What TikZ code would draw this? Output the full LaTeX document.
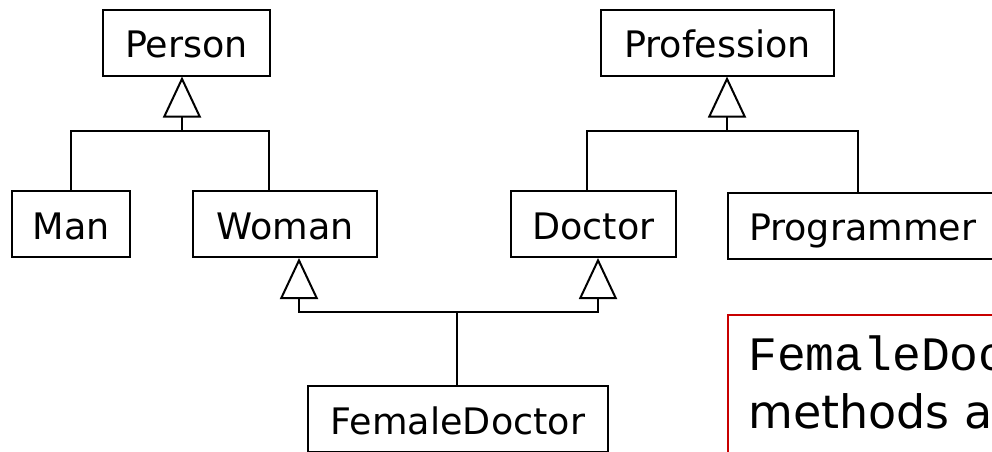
\documentclass[tikz,border=0pt]{standalone}
\usepackage{fontspec}
\setmainfont{DejaVu Sans}
\newfontfamily\codefont{Liberation Mono}
\usetikzlibrary{arrows.meta}
\definecolor{notered}{RGB}{200,0,0}

\begin{document}
\begin{tikzpicture}[
        x=1pt, y=-1pt,
        cls/.style={draw, rectangle, line width=2pt, minimum height=66pt, text height=30pt, text depth=0pt, font=\fontsize{36.5}{43}\selectfont},
        link/.style={line width=2pt},
        inherit/.style={link, -{Triangle[open, length=41pt, width=38pt]}},
        notebox/.style={draw=notered, line width=2pt},
        notetext/.style={inner sep=0pt, anchor=base west}
    ]
        \useasboundingbox (0,0) rectangle (992,451);
        \clip (0,0) rectangle (992,451);

        % Classes (Absolute positioning)
        \node[cls, minimum width=167pt] (person) at (186.5, 42.5) {Person};
        \node[cls, minimum width=233pt] (profession) at (717.5, 42.5) {Profession};
        \node[cls, minimum width=118pt] (man) at (71, 224) {Man};
        \node[cls, minimum width=184pt] (woman) at (285, 224) {Woman};
        \node[cls, minimum width=165pt] (doctor) at (593.5, 224) {Doctor};
        \node[cls, minimum width=269pt] (programmer) at (862.5, 225.5) {Programmer};
        \node[cls, minimum width=300pt] (femdoc) at (458, 419) {FemaleDoctor};

        % Junctions
        \coordinate (pjoin) at (182, 131);
        \coordinate (prjoin) at (727, 131);
        \coordinate (fjoin) at (457, 312);

        % Note
        \node[notebox, anchor=north west, minimum width=320pt, minimum height=180pt] (note) at (727, 314) {};
        \node[notetext, font=\codefont\fontsize{48}{56}\selectfont] (notecode) at (748, 370) {FemaleDoctor};
        \node[notetext, font=\fontsize{46}{55}\selectfont] (notewords) at (748, 428) {methods a};

        % Arrows
        \draw[link] (man.north) |- (pjoin);
        \draw[link] ([xshift=-16pt]woman.north) |- (pjoin);
        \draw[inherit] (pjoin) -- (pjoin |- person.south);
        \draw[link] ([xshift=-7pt]doctor.north) |- (prjoin);
        \draw[link] ([xshift=-4.5pt]programmer.north) |- (prjoin);
        \draw[inherit] (prjoin) -- (prjoin |- profession.south);
        \draw[link] (fjoin |- femdoc.north) -- (fjoin);
        \draw[inherit] (fjoin) -| ([xshift=14pt]woman.south);
        \draw[inherit] (fjoin) -| ([xshift=4.5pt]doctor.south);

    \end{tikzpicture}
\end{document}
